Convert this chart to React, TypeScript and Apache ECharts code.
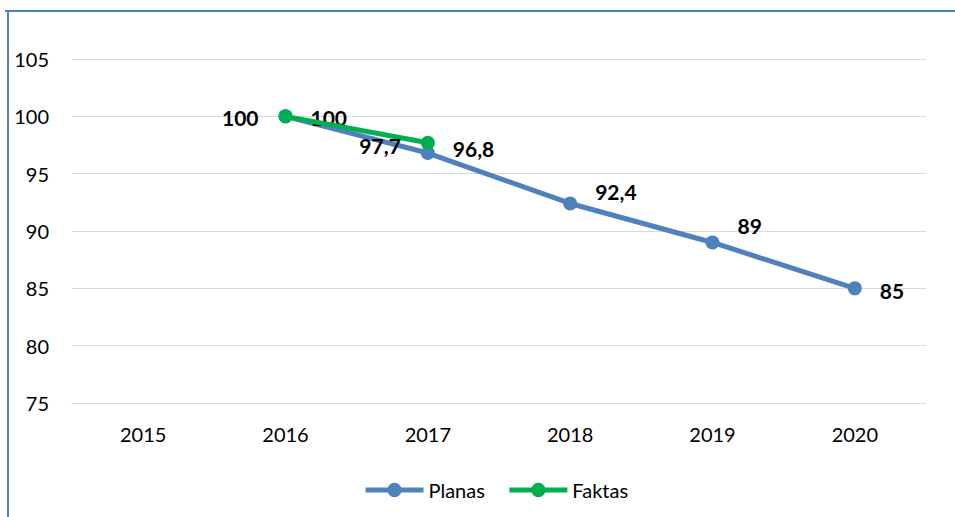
import React, { useEffect, useRef } from "react";
import * as echarts from "echarts";

const years = ["2015", "2016", "2017", "2018", "2019", "2020"];
const planas: (number | null)[] = [null, 100, 96.8, 92.4, 89, 85];
const faktas: (number | null)[] = [null, 100, 97.7, null, null, null];
const planasLabelOffsets: [number, number][] = [[0, 0], [0, 1], [0, -5], [0, -12], [0, -17], [0, 2]];
const faktasLabelOffsets: [number, number][] = [[0, 0], [0, 1], [0, 3], [0, 0], [0, 0], [0, 0]];

const fmt = (v: number) => String(v).replace(".", ",");
const FONT = "Lato, 'Open Sans', sans-serif";

export default function App() {
  const ref = useRef<HTMLDivElement>(null);
  useEffect(() => {
    if (!ref.current) return;
    const chart = echarts.init(ref.current, undefined, { renderer: "svg" });
    const labelStyle = {
      show: true,
      fontSize: 21,
      fontWeight: "bold" as const,
      color: "#000",
      fontFamily: FONT,
      formatter: (p: any) => fmt(p.value),
    };
    chart.setOption({
      animation: false,
      backgroundColor: "#fff",
      textStyle: { fontFamily: FONT },
      graphic: [
        { type: "line", shape: { x1: 5, y1: 11, x2: 955, y2: 11 }, style: { stroke: "#4f81bd", lineWidth: 2 } },
        { type: "line", shape: { x1: 8, y1: 10, x2: 8, y2: 517 }, style: { stroke: "#4f81bd", lineWidth: 2 } },
      ],
      grid: { left: 72, right: 29, top: 59, bottom: 114 },
      legend: {
        left: 358,
        top: 475,
        itemWidth: 58,
        itemHeight: 18,
        itemGap: 22,
        lineStyle: { width: 5 },
        textStyle: { fontSize: 20, color: "#000", fontFamily: FONT },
        data: ["Planas", "Faktas"],
      },
      xAxis: {
        type: "category",
        data: years,
        boundaryGap: true,
        axisLine: { show: true, lineStyle: { color: "#d9d9d9", width: 1 } },
        axisTick: { show: false },
        axisLabel: { fontSize: 20, color: "#000", margin: 21, fontFamily: FONT },
      },
      yAxis: {
        type: "value",
        min: 75,
        max: 105,
        interval: 5,
        axisLine: { show: false },
        axisTick: { show: false },
        splitLine: { lineStyle: { color: "#d9d9d9", width: 1 } },
        axisLabel: { fontSize: 20, color: "#000", margin: 23, fontFamily: FONT },
      },
      series: [
        {
          name: "Planas",
          type: "line",
          data: planas.map((v, i) => ({
            value: v,
            label: { ...labelStyle, position: "right", distance: 18, offset: planasLabelOffsets[i] },
          })),
          color: "#4f81bd",
          lineStyle: { width: 5, color: "#4f81bd" },
          symbol: "circle",
          symbolSize: 14,
          itemStyle: { color: "#4f81bd" },
          z: 2,
        },
        {
          name: "Faktas",
          type: "line",
          data: faktas.map((v, i) => ({
            value: v,
            label: { ...labelStyle, position: "left", distance: 20, offset: faktasLabelOffsets[i] },
          })),
          color: "#00b050",
          lineStyle: { width: 5, color: "#00b050" },
          symbol: "circle",
          symbolSize: 14,
          itemStyle: { color: "#00b050" },
          z: 3,
        },
      ],
    });
    return () => chart.dispose();
  }, []);
  return <div ref={ref} style={{ position: "fixed", left: 0, top: 0, width: 955, height: 517 }} />;
}
